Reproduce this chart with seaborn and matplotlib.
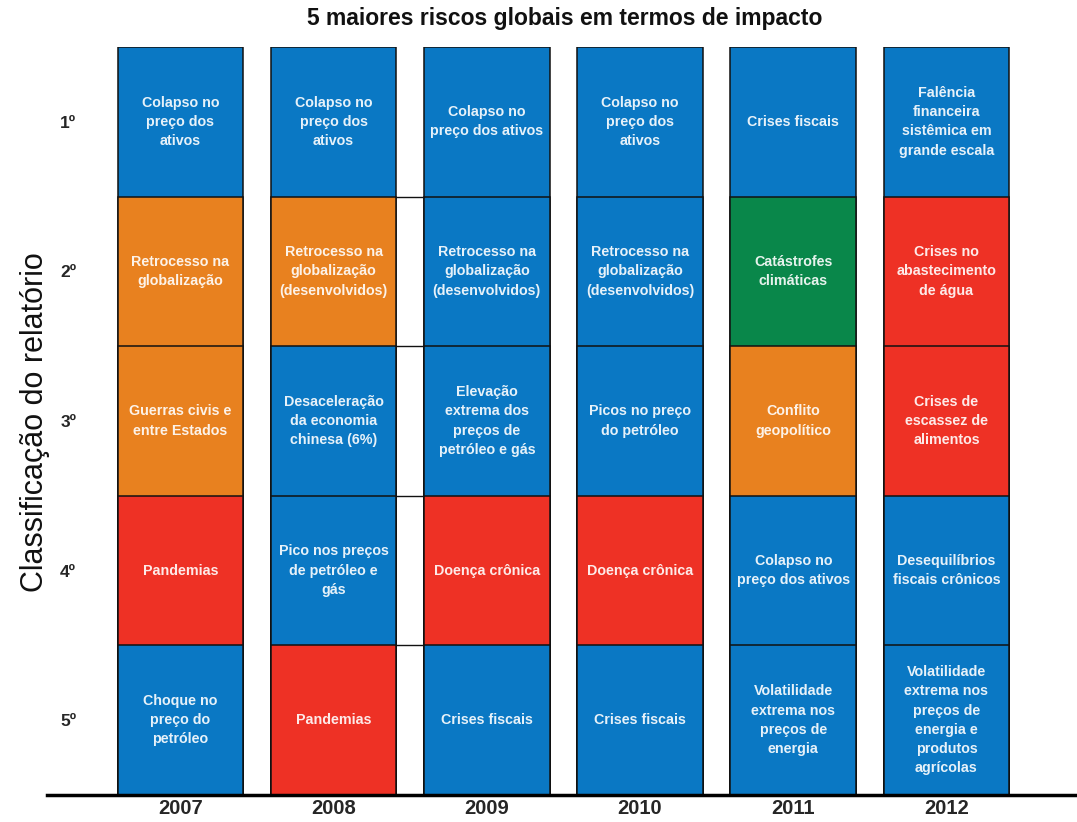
import matplotlib
matplotlib.use("Agg")
import matplotlib.pyplot as plt
import seaborn as sns
import pandas as pd

# ---------------- data ----------------
years = ["2007", "2008", "2009", "2010", "2011", "2012"]
ranks = ["1º", "2º", "3º", "4º", "5º"]

risks_2007 = ["Colapso no\npreço dos\nativos", "Retrocesso na\nglobalização",
              "Guerras civis e\nentre Estados", "Pandemias",
              "Choque no\npreço do\npetróleo"]
risks_2008 = ["Colapso no\npreço dos\nativos", "Retrocesso na\nglobalização\n(desenvolvidos)",
              "Desaceleração\nda economia\nchinesa (6%)", "Pico nos preços\nde petróleo e\ngás",
              "Pandemias"]
risks_2009 = ["Colapso no\npreço dos ativos", "Retrocesso na\nglobalização\n(desenvolvidos)",
              "Elevação\nextrema dos\npreços de\npetróleo e gás", "Doença crônica",
              "Crises fiscais"]
risks_2010 = ["Colapso no\npreço dos\nativos", "Retrocesso na\nglobalização\n(desenvolvidos)",
              "Picos no preço\ndo petróleo", "Doença crônica", "Crises fiscais"]
risks_2011 = ["Crises fiscais", "Catástrofes\nclimáticas", "Conflito\ngeopolítico",
              "Colapso no\npreço dos ativos",
              "Volatilidade\nextrema nos\npreços de\nenergia"]
risks_2012 = ["Falência\nfinanceira\nsistêmica em\ngrande escala",
              "Crises no\nabastecimento\nde água", "Crises de\nescassez de\nalimentos",
              "Desequilíbrios\nfiscais crônicos",
              "Volatilidade\nextrema nos\npreços de\nenergia e\nprodutos\nagrícolas"]

cats_2007 = ["Econômico", "Geopolítico", "Geopolítico", "Social", "Econômico"]
cats_2008 = ["Econômico", "Geopolítico", "Econômico", "Econômico", "Social"]
cats_2009 = ["Econômico", "Econômico", "Econômico", "Social", "Econômico"]
cats_2010 = ["Econômico", "Econômico", "Econômico", "Social", "Econômico"]
cats_2011 = ["Econômico", "Ambiental", "Geopolítico", "Econômico", "Econômico"]
cats_2012 = ["Econômico", "Social", "Social", "Econômico", "Econômico"]

title = "5 maiores riscos globais em termos de impacto"
ylabel = "Classificação do relatório"

palette = {"Econômico": "#0A78C4", "Geopolítico": "#E8811F",
           "Social": "#EE3125", "Ambiental": "#09874A"}

# ---------------- build table ----------------
all_risks = [risks_2007, risks_2008, risks_2009, risks_2010, risks_2011, risks_2012]
all_cats = [cats_2007, cats_2008, cats_2009, cats_2010, cats_2011, cats_2012]
rows = []
for y, rl, cl in zip(years, all_risks, all_cats):
    for i, (r, c) in enumerate(zip(rl, cl)):
        rows.append({"ano": y, "rank": ranks[i], "pos": i, "risco": r, "cat": c,
                     "nivel": len(ranks) - i})
df = pd.DataFrame(rows)

# ---------------- plot ----------------
sns.set_theme(style="white")
plt.rcParams["font.family"] = ["Liberation Sans", "DejaVu Sans"]

fig = plt.figure(figsize=(10.77, 8.22), dpi=100)
ax = fig.add_axes([47 / 1077, 27 / 822, 1 - 47 / 1077, 748 / 822])

bar_w = 0.82
for r in ranks:
    sub = df[df["rank"] == r]
    sns.barplot(data=sub, x="ano", y="nivel", hue="cat", palette=palette,
                order=years, dodge=False, width=bar_w, legend=False,
                edgecolor="#111111", linewidth=1.1, saturation=1, ax=ax)

# labels inside cells
for _, row in df.iterrows():
    xi = years.index(row["ano"])
    ax.text(xi, row["nivel"] - 0.5, row["risco"], ha="center", va="center",
            color="white", alpha=0.9, fontsize=10.3, fontweight="bold",
            linespacing=1.48)

# connecting lines between 2008 and 2009 columns
ax.hlines(range(1, len(ranks)), 1 + bar_w / 2, 2 - bar_w / 2, color="#111111", lw=1)

ax.set_xlim(-0.871, 5.852)
ax.set_ylim(0, len(ranks))
ax.set_yticks([len(ranks) - i - 0.5 for i in range(len(ranks))])
ax.set_yticklabels(ranks, fontsize=12.5, fontweight="bold")
ax.tick_params(axis="y", length=0, pad=-21)
ax.tick_params(axis="x", length=0, pad=3)
for lab in ax.get_xticklabels():
    lab.set_fontsize(14.5)
    lab.set_fontweight("bold")
ax.set_xlabel("")
ax.set_ylabel("")
for s in ["top", "left", "right"]:
    ax.spines[s].set_visible(False)
ax.spines["bottom"].set_color("black")
ax.spines["bottom"].set_linewidth(2.5)

fig.text(565 / 1077, 1 - 19 / 822, title, ha="center", va="center",
         fontsize=16.5, fontweight="bold", color="#111111")
fig.text(35 / 1077, 1 - 422 / 822, ylabel, ha="center", va="center",
         rotation=90, fontsize=22, color="#111111")

fig.savefig("out.png", dpi=100)
